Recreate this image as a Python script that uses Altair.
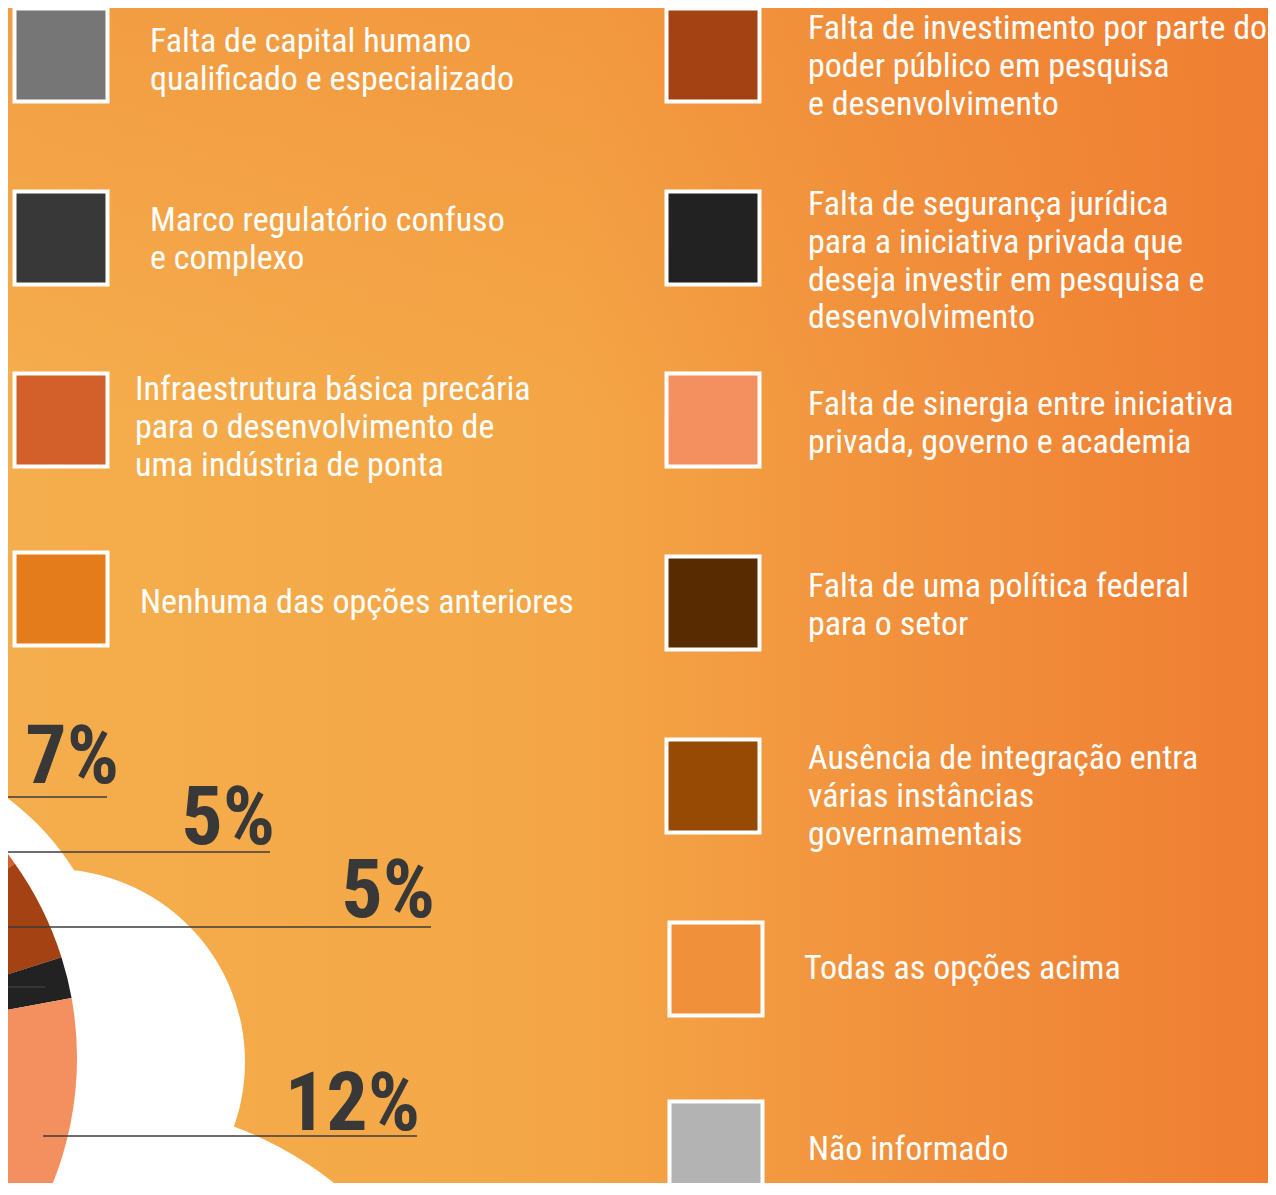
import math
import altair as alt
import pandas as pd

# ---------------- data ----------------
categories = [
    "Falta de capital humano qualificado e especializado",
    "Marco regulatório confuso e complexo",
    "Infraestrutura básica precária para o desenvolvimento de uma indústria de ponta",
    "Nenhuma das opções anteriores",
    "Falta de investimento por parte do poder público em pesquisa e desenvolvimento",
    "Falta de segurança jurídica para a iniciativa privada que deseja investir em pesquisa e desenvolvimento",
    "Falta de sinergia entre iniciativa privada, governo e academia",
    "Falta de uma política federal para o setor",
    "Ausência de integração entra várias instâncias governamentais",
    "Todas as opções acima",
    "Não informado",
]
label_lines = [
    ["Falta de capital humano", "qualificado e especializado"],
    ["Marco regulatório confuso", "e complexo"],
    ["Infraestrutura básica precária", "para o desenvolvimento de", "uma indústria de ponta"],
    ["Nenhuma das opções anteriores"],
    ["Falta de investimento por parte do", "poder público em pesquisa", "e desenvolvimento"],
    ["Falta de segurança jurídica", "para a iniciativa privada que", "deseja investir em pesquisa e", "desenvolvimento"],
    ["Falta de sinergia entre iniciativa", "privada, governo e academia"],
    ["Falta de uma política federal", "para o setor"],
    ["Ausência de integração entra", "várias instâncias", "governamentais"],
    ["Todas as opções acima"],
    ["Não informado"],
]
colors = ["#767676", "#383838", "#D3602A", "#E57C1B", "#A44213", "#222222",
          "#F4905F", "#582B00", "#974A03", "#F0903A", "#B3B3B3"]
# shares (%) – visible slices, hidden ones estimated
shares = [20, 7, 5, 3, 5, 2, 12, 10, 8, 26, 2]
ring_order = [1, 2, 4, 5, 6, 7, 8, 9, 10, 0, 3]   # clockwise
pct_items = [1, 2, 4, 6]                          # labelled slices

# ---------------- layout ----------------
W, H = 1260, 1175
X0, Y0 = 8, 8
xs = alt.Scale(domain=[X0, X0 + W], nice=False, zero=False)
ys = alt.Scale(domain=[Y0, Y0 + H], nice=False, zero=False, reverse=True)
FONT = ("Roboto Condensed, Noto Sans Condensed, Liberation Sans Narrow, "
        "Arial Narrow, DejaVu Sans Condensed, sans-serif")

def X(f):
    return alt.X(f, type="quantitative", scale=xs, axis=None)

def Y(f):
    return alt.Y(f, type="quantitative", scale=ys, axis=None)

# legend layout
sq_pos = [(61, 55), (61, 238), (61, 420), (61, 599),
          (713, 55), (713, 238), (713, 420), (713, 603), (713, 786), (716, 969), (716, 1148)]
txt_pos = [(150, 52), (150, 231), (135, 400), (140, 613),
           (808, 39), (808, 215), (808, 415), (808, 597), (808, 769), (804, 979), (808, 1160)]
LINE_H = 37.8

# donut geometry
donut_cx, donut_cy = -258, 1058
R_OUT, R_IN = 335, 266
theta0 = math.radians(11.3)

# white cloud circles (cx, cy, r)
cloud = [(-150, 1010, 264), (52, 1062, 193), (100, 1480, 378)]

# percent labels (right x, baseline y) and leader lines (x, x2, y)
pct_pos = [(119, 783), (275, 844), (435, 917), (420, 1130)]
leaders = [(0, 107, 797), (0, 270, 852), (0, 431, 927), (0, 45, 987), (43, 417, 1136)]

# ---------------- tables ----------------
bg = pd.DataFrame({"x": [X0], "x2": [X0 + W], "y": [Y0], "y2": [Y0 + H]})
cloud_df = pd.DataFrame({"cx": [c[0] for c in cloud], "cy": [c[1] for c in cloud],
                         "size": [(2 * c[2]) ** 2 for c in cloud]})
donut_df = pd.DataFrame({
    "cat": [categories[i] for i in ring_order],
    "share": [shares[i] for i in ring_order],
    "color": [colors[i] for i in ring_order],
    "ord": list(range(len(ring_order))),
})
pct_df = pd.DataFrame({"x": [p[0] for p in pct_pos], "y": [p[1] for p in pct_pos],
                       "t": [f"{shares[i]}%" for i in pct_items]})
lead_df = pd.DataFrame({"x": [l[0] for l in leaders], "x2": [l[1] for l in leaders],
                        "y": [l[2] for l in leaders]})
sq_df = pd.DataFrame({"x": [p[0] for p in sq_pos], "y": [p[1] for p in sq_pos],
                      "color": colors, "cat": categories})
rows = []
for i, lines in enumerate(label_lines):
    for k, ln in enumerate(lines):
        rows.append({"x": txt_pos[i][0], "y": txt_pos[i][1] + k * LINE_H, "t": ln})
txt_df = pd.DataFrame(rows)

# ---------------- layers ----------------
grad_h = alt.Gradient(gradient="linear", x1=0, x2=1, y1=0, y2=0, stops=[
    alt.GradientStop(color="#F5AE4D", offset=0),
    alt.GradientStop(color="#F4A646", offset=0.45),
    alt.GradientStop(color="#F18E3B", offset=0.75),
    alt.GradientStop(color="#EF7E32", offset=1)])
grad_v = alt.Gradient(gradient="linear", x1=0, x2=0, y1=0, y2=1, stops=[
    alt.GradientStop(color="rgba(239,128,50,0.35)", offset=0),
    alt.GradientStop(color="rgba(239,128,50,0)", offset=0.35),
    alt.GradientStop(color="rgba(239,128,50,0)", offset=1)])

background = alt.Chart(bg).mark_rect(fill=grad_h).encode(x=X("x"), x2="x2", y=Y("y"), y2="y2")
tint = alt.Chart(bg).mark_rect(fill=grad_v).encode(x=X("x"), x2="x2", y=Y("y"), y2="y2")

clouds = alt.Chart(cloud_df).mark_circle(color="white", opacity=1).encode(
    x=X("cx"), y=Y("cy"), size=alt.Size("size:Q", scale=None))

donut = alt.Chart(donut_df).mark_arc(radius=R_OUT, radius2=R_IN).encode(
    theta=alt.Theta("share:Q", stack=True,
                    scale=alt.Scale(range=[theta0, theta0 + 2 * math.pi])),
    order=alt.Order("ord:Q"),
    color=alt.Color("color:N", scale=None),
    x=alt.XDatum(donut_cx, type="quantitative", scale=xs, axis=None),
    y=alt.YDatum(donut_cy, type="quantitative", scale=ys, axis=None),
)

pct = alt.Chart(pct_df).mark_text(font=FONT, fontSize=82, fontWeight="bold", color="#383838",
                                   align="right", baseline="alphabetic").encode(
    x=X("x"), y=Y("y"), text="t:N")

lead = alt.Chart(lead_df).mark_rule(color="#3C3C3C", strokeWidth=1.5).encode(
    x=X("x"), x2="x2", y=Y("y"))

squares = alt.Chart(sq_df).mark_square(size=93 * 93, stroke="white", strokeWidth=4,
                                       opacity=1, filled=True).encode(
    x=X("x"), y=Y("y"), fill=alt.Fill("color:N", scale=None))

texts = alt.Chart(txt_df).mark_text(font=FONT, fontSize=34, color="white",
                                    align="left", baseline="alphabetic").encode(
    x=X("x"), y=Y("y"), text="t:N")

chart = alt.layer(background, tint, clouds, donut, pct, lead, squares, texts).properties(
    width=W, height=H, autosize=alt.AutoSizeParams(type="none"), padding=0,
    background="white",
).configure_view(strokeWidth=0)

chart.save("out.html", embed_options={"renderer": "svg", "actions": False})
